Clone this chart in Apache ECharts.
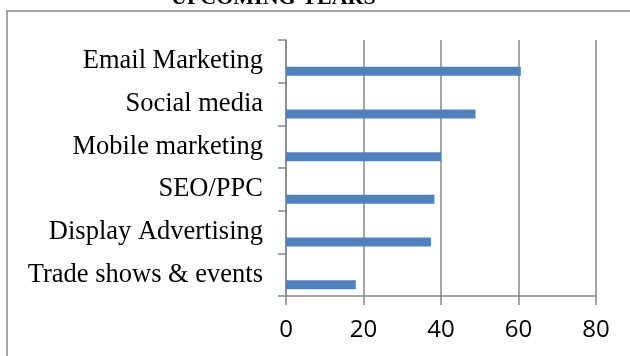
<!DOCTYPE html>
<html><head><meta charset="utf-8">
<script src="https://cdn.jsdelivr.net/npm/echarts@6/dist/echarts.min.js"></script>
<style>html,body{margin:0;padding:0;background:#fff}#c{width:630px;height:356px}</style>
</head><body><div id="c"></div>
<script>
var titleText = 'UPCOMING YEARS';
var categories = ['Trade shows & events','Display Advertising','SEO/PPC','Mobile marketing','Social media','Email Marketing'];
var values = [18.0, 37.4, 38.3, 40.0, 48.9, 60.6];
var xTicks = [0, 20, 40, 60, 80];

var chart = echarts.init(document.getElementById('c'));
var grey = '#878787';
chart.setOption({
  animation: false,
  title: {
    text: titleText, left: 166, top: -18,
    textStyle: {fontFamily: 'Liberation Serif', fontWeight: 'bold', fontSize: 22, color: '#000'}
  },
  graphic: [{
    type: 'rect', shape: {x: 7, y: 11, width: 640, height: 360},
    style: {fill: 'none', stroke: grey, lineWidth: 1.5}, silent: true
  }],
  grid: {left: 286, right: 34, top: 40, bottom: 60, containLabel: false},
  xAxis: {
    type: 'value', min: xTicks[0], max: xTicks[xTicks.length-1], interval: 20,
    axisLine: {show: true, lineStyle: {color: grey, width: 1.5}},
    axisTick: {show: true, length: 9, lineStyle: {color: grey, width: 1.5}},
    splitLine: {show: true, lineStyle: {color: grey, width: 1.5}},
    axisLabel: {color: '#000', fontFamily: 'Open Sans', fontSize: 24, margin: 22}
  },
  yAxis: {
    type: 'category', data: categories,
    axisLine: {show: true, lineStyle: {color: grey, width: 1.5}},
    axisTick: {show: true, length: 8, lineStyle: {color: grey, width: 1.5}},
    axisLabel: {color: '#000', fontFamily: 'Liberation Serif', fontSize: 26.5, margin: 23}
  },
  series: [
    {type: 'bar', data: categories.map(function(){return null;}), barWidth: 9, barGap: '122%'},
    {type: 'bar', data: values, barWidth: 9, barGap: '122%', itemStyle: {color: '#4f81bd'}}
  ]
});
</script></body></html>
